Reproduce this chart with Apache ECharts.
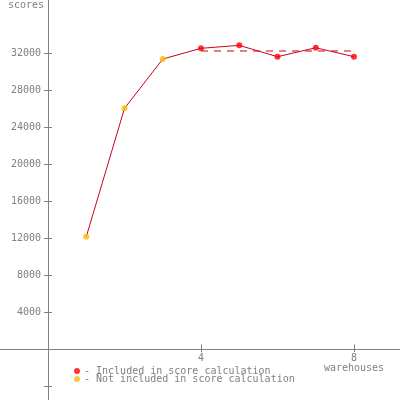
<!DOCTYPE html>
<html><head><meta charset="utf-8">
<script src="https://cdn.jsdelivr.net/npm/echarts@6/dist/echarts.min.js"></script>
<style>html,body{margin:0;padding:0;background:#fff}#c{width:400px;height:400px}</style>
</head><body><div id="c"></div>
<script>
const warehouses = [1, 2, 3, 4, 5, 6, 7, 8];
const scores = [12170, 26050, 31380, 32540, 32860, 31630, 32600, 31630];
const included = [false, false, false, true, true, true, true, true];
const referenceScore = 32250;
const yTickValues = [-4000, 4000, 8000, 12000, 16000, 20000, 24000, 28000, 32000];
const yLabelValues = [4000, 8000, 12000, 16000, 20000, 24000, 28000, 32000];
const xTickValues = [4, 8];
const xAxisName = 'warehouses';
const yAxisName = 'scores';
const includedName = 'Included in score calculation';
const notIncludedName = 'Not included in score calculation';

const gray = '#808080';
const font = 'DejaVu Sans Mono';
const xMin = -1.255, xMax = 9.2026, yMin = -5481, yMax = 37762;

const linePts = warehouses.map((w, i) => [w, scores[i]]);
const incPts = warehouses.map((w, i) => [w, scores[i]]).filter((p, i) => included[i]);
const notPts = warehouses.map((w, i) => [w, scores[i]]).filter((p, i) => !included[i]);
const incX = warehouses.filter((w, i) => included[i]);
const refPts = [[Math.min(...incX), referenceScore], [Math.max(...incX), referenceScore]];

const chart = echarts.init(document.getElementById('c'), null, {renderer: 'canvas'});
chart.setOption({
  animation: false,
  backgroundColor: '#fff',
  grid: [
    {left: 0, right: 0, top: 0, bottom: 0, containLabel: false, outerBoundsMode: 'none'},
    {left: 48, right: 0, top: 0, bottom: 51, containLabel: false}
  ],
  xAxis: [{
    gridIndex: 0, type: 'value', min: xMin, max: xMax, position: 'bottom',
    axisLine: {show: true, onZero: true, lineStyle: {color: gray, width: 1}},
    axisTick: {show: true, inside: false, length: 3, customValues: xTickValues, lineStyle: {color: gray}},
    axisLabel: {show: false},
    splitLine: {show: false}
  }, {
    gridIndex: 0, type: 'value', min: xMin, max: xMax, position: 'bottom',
    axisLine: {show: false, onZero: true},
    axisTick: {show: true, inside: true, length: 5, customValues: xTickValues, lineStyle: {color: gray}},
    axisLabel: {show: false},
    splitLine: {show: false}
  }, {
    gridIndex: 1, type: 'value', min: 0, max: xMax, position: 'bottom',
    axisLine: {show: false, onZero: false},
    axisTick: {show: false},
    axisLabel: {show: true, customValues: xTickValues, color: gray, fontFamily: font, fontSize: 10, margin: 4, lineHeight: 10,
      formatter: v => v === 8 ? v + '\n' + xAxisName : String(v)},
    splitLine: {show: false}
  }],
  yAxis: [{
    gridIndex: 0, type: 'value', min: yMin, max: yMax, position: 'left',
    axisLine: {show: true, onZero: true, lineStyle: {color: gray, width: 1}},
    axisTick: {show: true, inside: false, length: 4, customValues: yTickValues, lineStyle: {color: gray}},
    axisLabel: {show: false},
    splitLine: {show: false}
  }, {
    gridIndex: 0, type: 'value', min: yMin, max: yMax, position: 'left',
    axisLine: {show: false, onZero: true},
    axisTick: {show: true, inside: true, length: 4, customValues: yTickValues, lineStyle: {color: gray}},
    axisLabel: {show: false},
    splitLine: {show: false}
  }, {
    gridIndex: 1, type: 'value', min: 0, max: yMax, position: 'left',
    axisLine: {show: false, onZero: false},
    axisTick: {show: false},
    axisLabel: {show: true, customValues: yLabelValues, color: gray, fontFamily: font, fontSize: 10, margin: 7,
      formatter: v => String(v)},
    splitLine: {show: false}
  }],
  legend: {
    orient: 'vertical', left: 74, top: 366, itemWidth: 6, itemHeight: 6, itemGap: -2,
    icon: 'circle', padding: 0,
    data: [includedName, notIncludedName],
    formatter: n => '- ' + n,
    textStyle: {color: gray, fontFamily: font, fontSize: 10, padding: [0, 0, 0, -1]}
  },
  graphic: [{
    type: 'text', left: 8, top: 0,
    style: {text: yAxisName, fill: gray, font: '10px "DejaVu Sans Mono"'}
  }],
  series: [{
    type: 'line', name: 'line', xAxisIndex: 0, yAxisIndex: 0, data: linePts, showSymbol: false, symbol: 'none',
    lineStyle: {color: '#cc0022', width: 1}, silent: true, z: 2
  }, {
    type: 'line', name: 'reference', xAxisIndex: 0, yAxisIndex: 0, data: refPts, showSymbol: false, symbol: 'none',
    lineStyle: {color: '#cc0000', width: 1, type: [7, 6]}, silent: true, z: 1
  }, {
    type: 'scatter', name: includedName, xAxisIndex: 0, yAxisIndex: 0, data: incPts, symbol: 'circle', symbolSize: 6,
    itemStyle: {color: '#ff0000'}, z: 3
  }, {
    type: 'scatter', name: notIncludedName, xAxisIndex: 0, yAxisIndex: 0, data: notPts, symbol: 'circle', symbolSize: 6,
    itemStyle: {color: '#ffbb00'}, z: 3
  }]
});
</script></body></html>
